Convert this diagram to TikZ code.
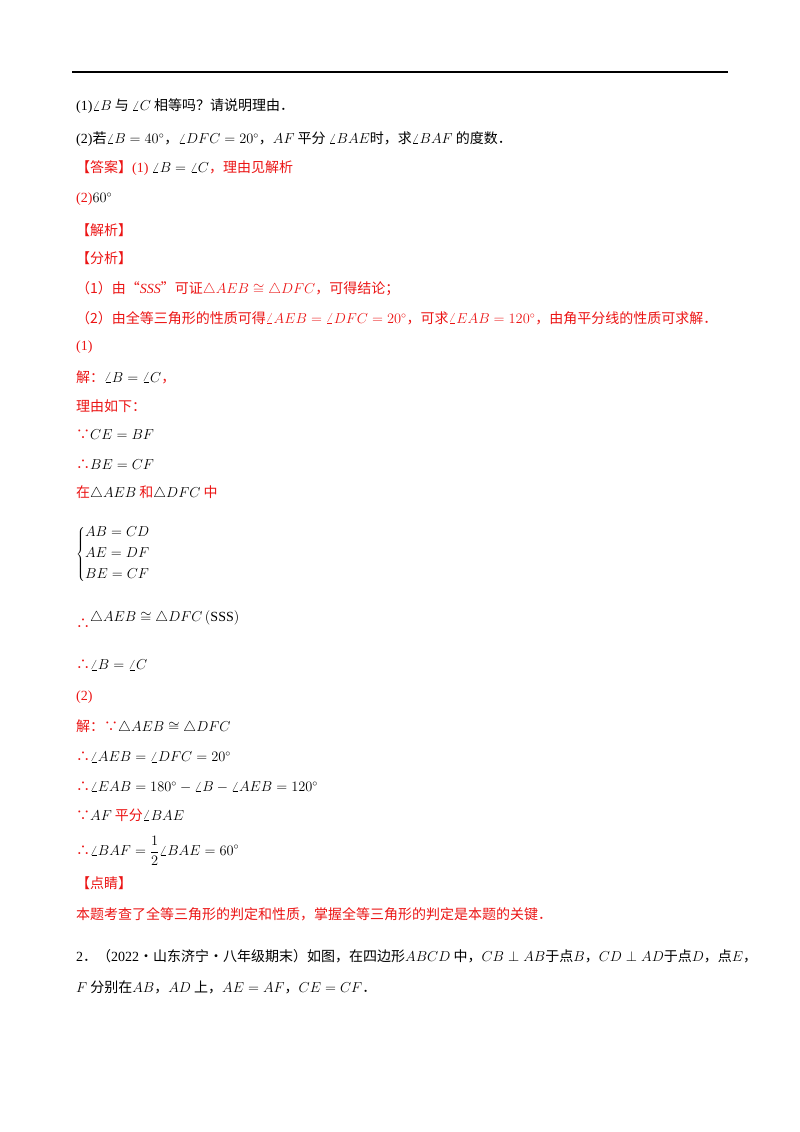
\documentclass[tikz,border=0pt]{standalone}
\usepackage{fontspec}
\setmainfont{Liberation Serif}
\newfontfamily\cjk{Noto Sans CJK SC}
\newcommand{\C}[1]{{\cjk #1}}
\definecolor{ansred}{RGB}{235,20,20}
\begin{document}
\begin{tikzpicture}[x=1pt,y=-1pt,
  txt/.style={anchor=west,inner sep=0pt,font=\fontsize{14}{16}\selectfont},
  rtxt/.style={txt,text=ansred}]
\useasboundingbox (0,0) rectangle (800,1132);
\draw[line width=2pt] (72,72) -- (728,72);
\node[txt] (l1) at (76,106) {(1)$\angle B$\C{ 与 }$\angle C$\C{ 相等吗？请说明理由．}};
\node[txt] (l2) at (76,139) {(2)\C{若}$\angle B=40^\circ$\C{，}$\angle DFC=20^\circ$\C{，}$AF$\C{ 平分 }$\angle BAE$\C{时，求}$\angle BAF$\C{ 的度数．}};
\node[rtxt] (l3) at (76,168) {\C{【答案】}(1) \textcolor{black}{$\angle B=\angle C$}\C{，理由见解析}};
\node[rtxt] (l4) at (76,199) {(2)\textcolor{black}{$60^\circ$}};
\node[rtxt] (l5) at (76,230) {\C{【解析】}};
\node[rtxt] (l6) at (76,258) {\C{【分析】}};
\node[rtxt] (l7) at (76,289) {\C{（1）由“}\textit{SSS}\C{”可证}$\triangle AEB\cong\triangle DFC$\C{，可得结论；}};
\node[rtxt] (l8) at (76,318) {\C{（2）由全等三角形的性质可得}$\angle AEB=\angle DFC=20^\circ$\C{，可求}$\angle EAB=120^\circ$\C{，由角平分线的性质可求解．}};
\node[rtxt] (l9) at (76,347) {(1)};
\node[rtxt] (l10) at (76,377) {\C{解：}\textcolor{black}{$\angle B=\angle C$}\C{，}};
\node[rtxt] (l11) at (76,406) {\C{理由如下：}};
\node[rtxt] (l12) at (76,435) {\C{∵}\textcolor{black}{ $CE=BF$}};
\node[rtxt] (l13) at (76,465) {\C{∴}\textcolor{black}{ $BE=CF$}};
\node[rtxt] (l14) at (76,493) {\C{在}\textcolor{black}{$\triangle AEB$}\C{ 和}\textcolor{black}{$\triangle DFC$}\C{ 中}};
\node[txt] (l15) at (76,554) {$\left\{\begin{array}{@{}l@{}}AB=CD\\[5pt] AE=DF\\[5pt] BE=CF\end{array}\right.$};
\node[rtxt] (l16) at (76,624) {\C{∴}};
\node[txt] (l16b) at (90,618) {$\triangle AEB\cong\triangle DFC\left(\mathrm{SSS}\right)$};
\node[rtxt] (l17) at (76,665) {\C{∴}\textcolor{black}{ $\angle B=\angle C$}};
\node[rtxt] (l18) at (76,697) {(2)};
\node[rtxt] (l19) at (76,727) {\C{解：∵}\textcolor{black}{$\triangle AEB\cong\triangle DFC$}};
\node[rtxt] (l20) at (76,757) {\C{∴}\textcolor{black}{ $\angle AEB=\angle DFC=20^\circ$}};
\node[rtxt] (l21) at (76,787) {\C{∴}\textcolor{black}{ $\angle EAB=180^\circ-\angle B-\angle AEB=120^\circ$}};
\node[rtxt] (l22) at (76,815) {\C{∵}\textcolor{black}{ $AF$}\C{ 平分}\textcolor{black}{$\angle BAE$}};
\node[rtxt] (l23) at (76,851) {\C{∴}\textcolor{black}{ $\displaystyle\angle BAF=\frac{1}{2}\angle BAE=60^\circ$}};
\node[rtxt] (l24) at (76,883) {\C{【点睛】}};
\node[rtxt] (l25) at (76,914) {\C{本题考查了全等三角形的判定和性质，掌握全等三角形的判定是本题的关键．}};
\node[txt] (l26) at (76,956) {2\C{．（}2022\C{·山东济宁·八年级期末）如图，在四边形}$ABCD$\C{ 中，}$CB\perp AB$\C{于点}$B$\C{，}$CD\perp AD$\C{于点}$D$\C{，点}$E$\C{，}};
\node[txt] (l27) at (76,987) {$F$\C{ 分别在}$AB$\C{，}$AD$\C{ 上，}$AE=AF$\C{，}$CE=CF$\C{．}};
\end{tikzpicture}
\end{document}
